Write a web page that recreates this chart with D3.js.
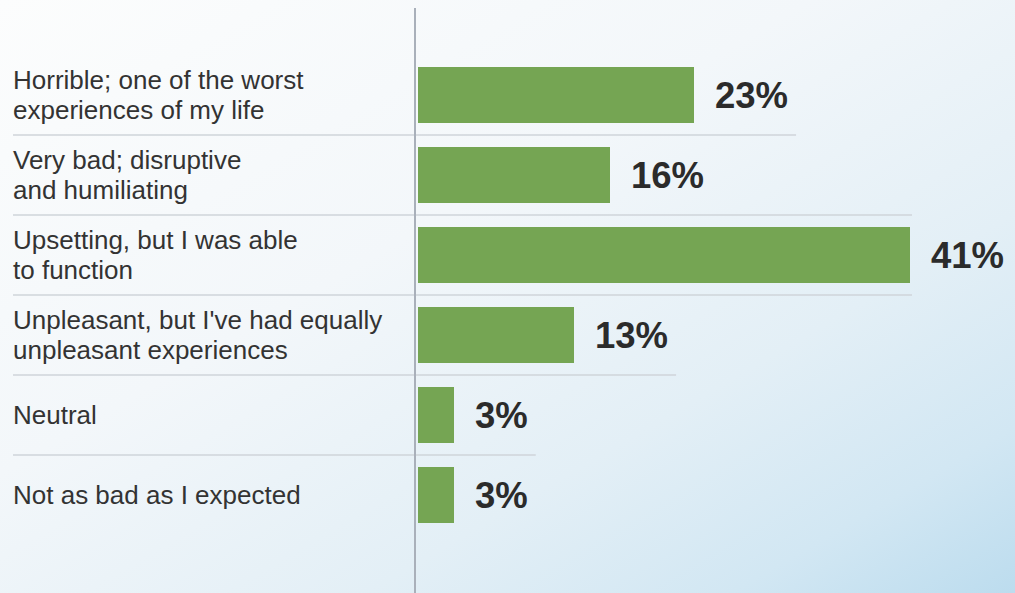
<!DOCTYPE html>
<html>
<head>
<meta charset="utf-8">
<script src="https://cdn.jsdelivr.net/npm/d3@7"></script>
<style>
  html, body { margin: 0; padding: 0; overflow: hidden; }
  svg { display: block; }
</style>
</head>
<body>
<svg id="chart" width="1015" height="593"></svg>
<script>
// Survey answers, one entry per row (each entry split into its printed lines)
const categories = [
  ["Horrible; one of the worst", "experiences of my life"],
  ["Very bad; disruptive", "and humiliating"],
  ["Upsetting, but I was able", "to function"],
  ["Unpleasant, but I've had equally", "unpleasant experiences"],
  ["Neutral"],
  ["Not as bad as I expected"]
];
// Share of respondents, in percent
const values = [23, 16, 41, 13, 3, 3];
const valueLabels = ["23%", "16%", "41%", "13%", "3%", "3%"];

const W = 1015, H = 593;
const svg = d3.select("#chart");

// soft white-to-blue backdrop
const defs = svg.append("defs");
const bg = defs.append("linearGradient").attr("id", "bg")
  .attr("x1", 0).attr("y1", 0).attr("x2", 1).attr("y2", 1);
[[0, "#fcfdfd"], [0.4, "#f3f7fa"], [0.68, "#e3eff6"], [0.86, "#d2e7f3"], [1, "#bcdcee"]]
  .forEach(([o, c]) => bg.append("stop").attr("offset", o).attr("stop-color", c));
svg.append("rect").attr("width", W).attr("height", H).attr("fill", "url(#bg)");

const y = d3.scaleBand()
  .domain(d3.range(categories.length))
  .range([55, 535])
  .paddingInner(0.3)
  .paddingOuter(0.15);

const x = d3.scaleLinear()
  .domain([0, d3.max(values)])
  .range([418, 910]);

const labelX = 13;
const font = "'Liberation Sans', Arial, Helvetica, sans-serif";

// category labels, centred on each row
svg.append("g").selectAll("text")
  .data(categories)
  .join("text")
  .attr("x", labelX)
  .attr("font-family", font)
  .attr("font-size", 26)
  .attr("fill", "#333")
  .each(function (lines, i) {
    const cy = y(i) + y.bandwidth() / 2;
    const lh = 30;
    const first = cy - (lines.length - 1) * lh / 2;
    d3.select(this).selectAll("tspan")
      .data(lines)
      .join("tspan")
      .attr("x", labelX)
      .attr("y", (d, k) => first + k * lh)
      .attr("dy", "0.35em")
      .text(d => d);
  });

// bars
svg.append("g").selectAll("rect")
  .data(values)
  .join("rect")
  .attr("x", x(0))
  .attr("y", (d, i) => y(i))
  .attr("width", d => x(d) - x(0))
  .attr("height", y.bandwidth())
  .attr("fill", "#75a553");

// value labels
const vals = svg.append("g").selectAll("text")
  .data(values)
  .join("text")
  .attr("x", d => x(d) + 21)
  .attr("y", (d, i) => y(i) + y.bandwidth() / 2)
  .attr("dy", "0.36em")
  .attr("font-family", font)
  .attr("font-weight", "bold")
  .attr("font-size", 36.5)
  .attr("fill", "#2b2b2b")
  .text((d, i) => valueLabels[i]);

// row separators: reach just past the wider value label of the two rows they divide
const labelEnds = [];
vals.each(function (d) {
  labelEnds.push(x(d) + 21 + this.getComputedTextLength());
});
const sepRows = d3.range(values.length - 1);
svg.append("g").selectAll("line")
  .data(sepRows)
  .join("line")
  .attr("x1", labelX)
  .attr("x2", i => Math.min(Math.max(labelEnds[i], labelEnds[i + 1]) + 8, x.range()[1] + 2))
  .attr("y1", i => (y(i) + y.bandwidth() + y(i + 1)) / 2)
  .attr("y2", i => (y(i) + y.bandwidth() + y(i + 1)) / 2)
  .attr("stroke", "#cfd5da")
  .attr("stroke-width", 1.5);

// baseline axis
svg.append("line")
  .attr("x1", x(0) - 3).attr("x2", x(0) - 3)
  .attr("y1", 8).attr("y2", H)
  .attr("stroke", "#a9b0ba")
  .attr("stroke-width", 2);
</script>
</body>
</html>
